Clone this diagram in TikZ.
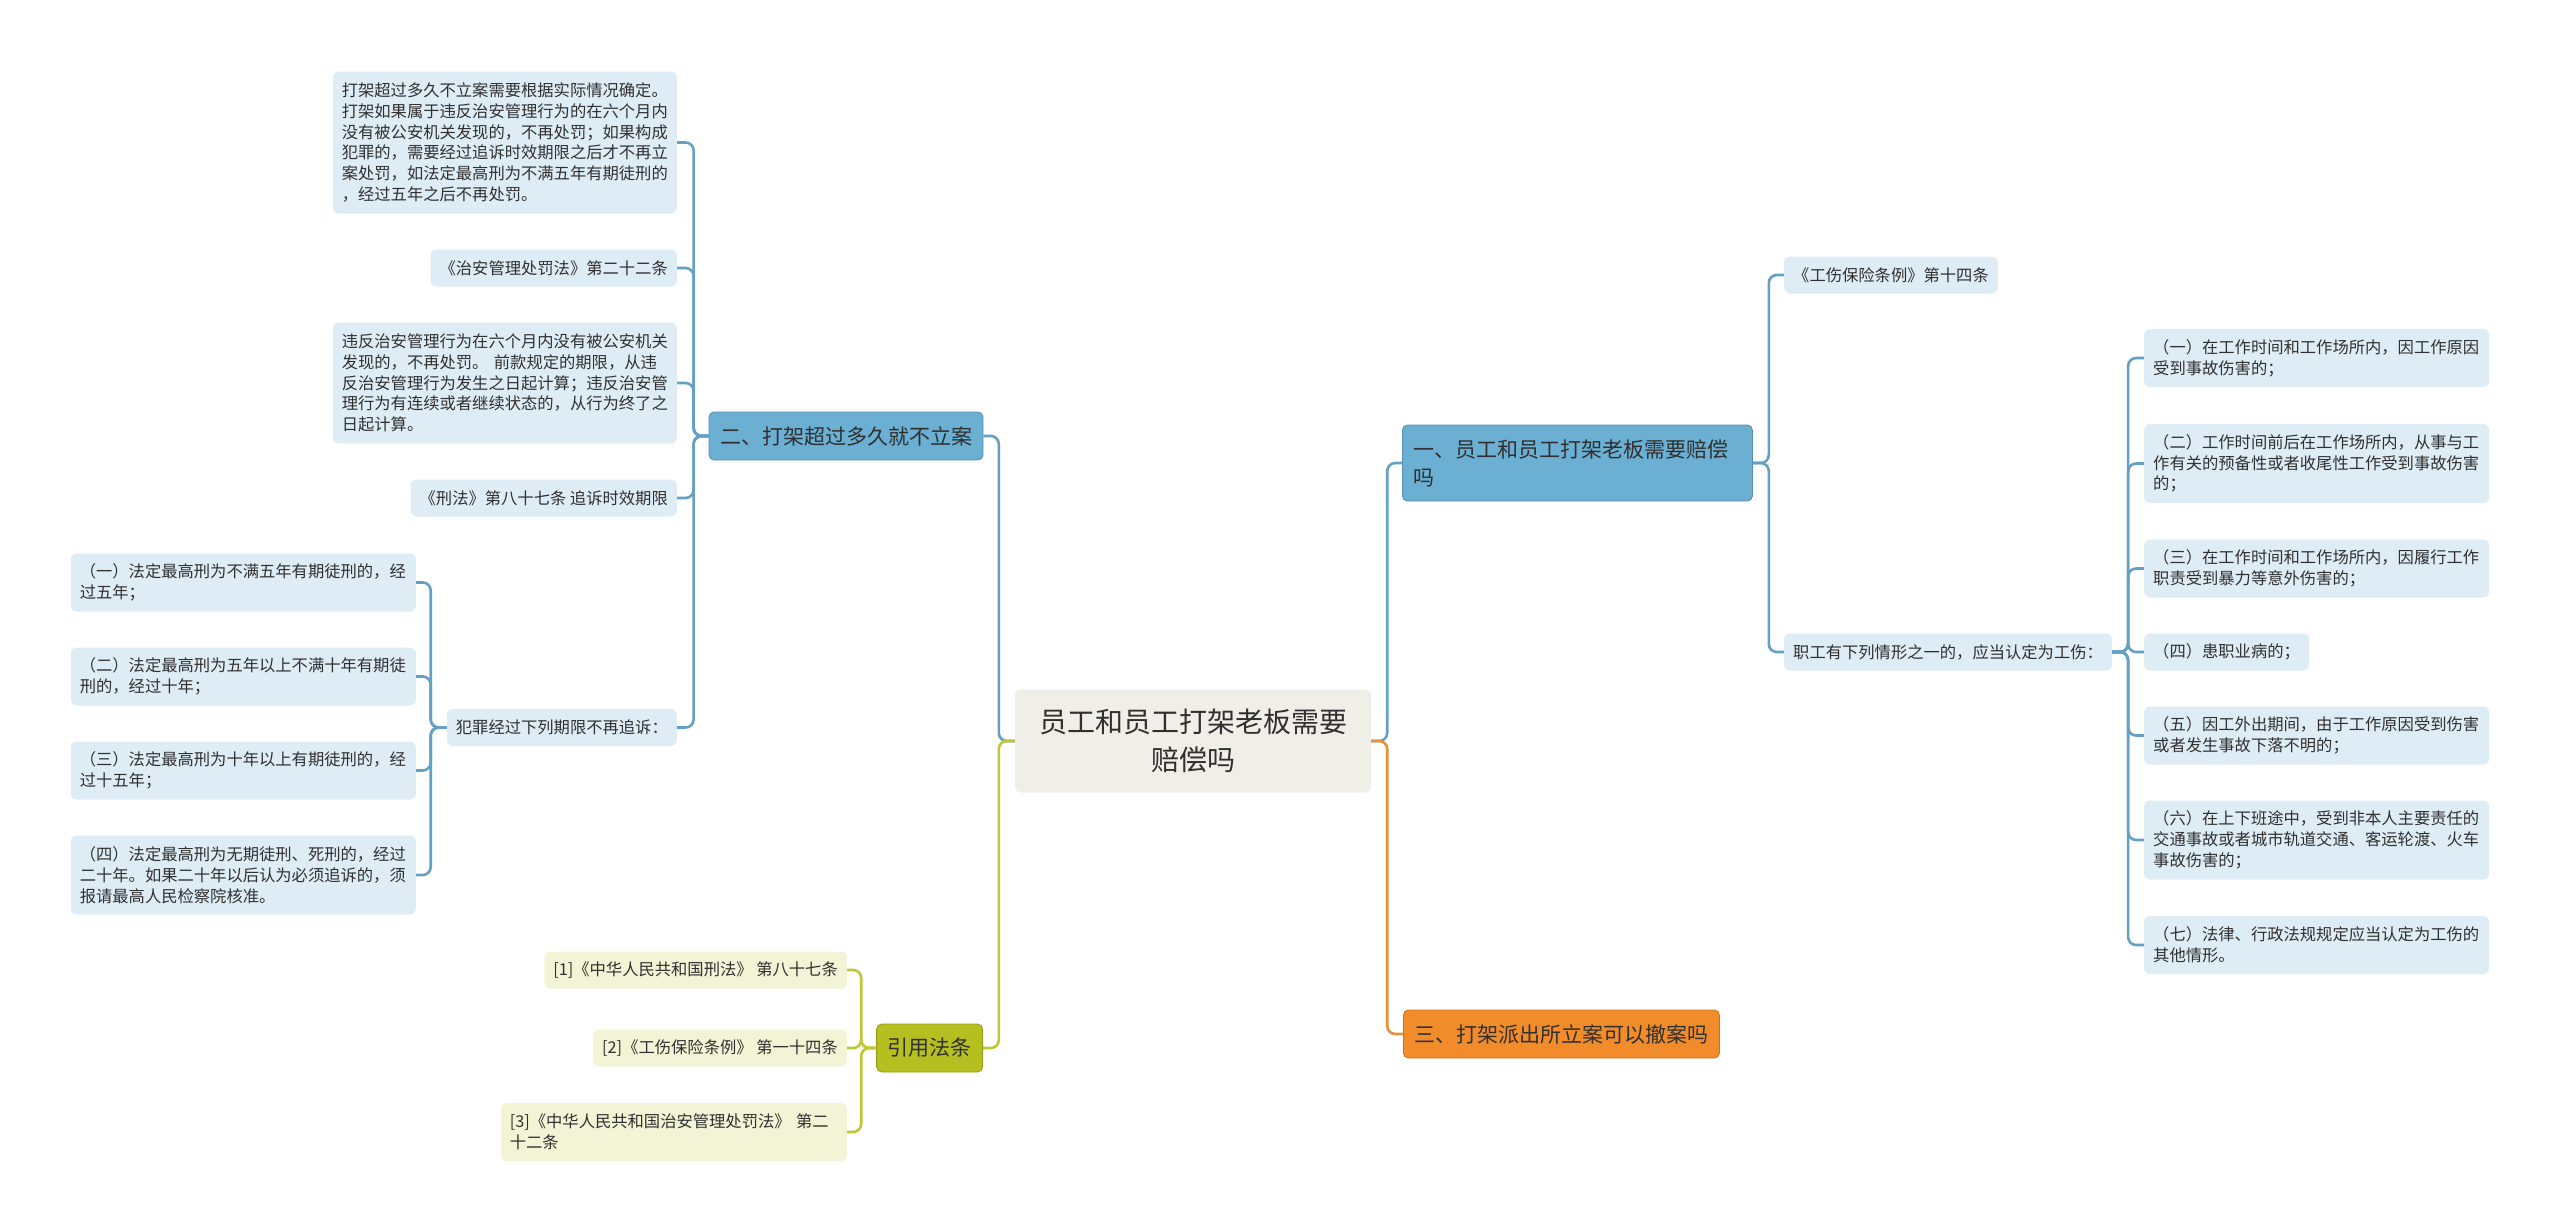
\documentclass[tikz,border=0pt]{standalone}
\usepackage{fontspec}
\setmainfont{Noto Sans CJK SC}
\usepackage{tikz}
\usetikzlibrary{positioning}
\definecolor{rootfill}{HTML}{EFEEE7}
\definecolor{bluetopic}{HTML}{6BAFD3}
\definecolor{blueleaf}{HTML}{DEECF5}
\definecolor{bluelink}{HTML}{649FC4}
\definecolor{olivetopic}{HTML}{B5BF1F}
\definecolor{oliveleaf}{HTML}{F3F3D5}
\definecolor{olivelink}{HTML}{BFC736}
\definecolor{orangetopic}{HTML}{F28C2B}
\definecolor{orangelink}{HTML}{E8903C}
\definecolor{txt}{HTML}{303030}

\begin{document}
\begin{tikzpicture}[x=1pt, y=-1pt, every node/.style={text=txt, inner ysep=0pt},
  root/.style={fill=rootfill, rounded corners=6pt, align=center, font=\fontsize{28}{38}\selectfont,
    minimum width=356pt, minimum height=103pt},
  topic/.style={fill=#1, draw=#1!82!black, line width=0.8pt, rounded corners=5pt,
    font=\fontsize{21}{28}\selectfont, inner xsep=11pt, minimum height=48pt},
  leaf/.style={fill=#1, rounded corners=6pt, font=\fontsize{16.3}{20.8}\selectfont, inner xsep=9pt, align=left},
  lines/.style={minimum height=#1*21pt+16pt},
  link/.style={draw=#1, line width=2.6pt, rounded corners=8pt}]
  \useasboundingbox (0,0) rectangle (2560,1226);

  \node[root] (ctr) at (1193,741) {员工和员工打架老板需要\\赔偿吗};

  % main topics
  \node[topic=bluetopic] (t2) at (846,436) {二、打架超过多久就不立案};
  \node[topic=olivetopic, anchor=east] (law) at (983,1048) {引用法条};
  \node[topic=bluetopic, anchor=west, text width=328pt, align=left, minimum height=76pt] (t1) at (1402,463)
    {一、员工和员工打架老板需要赔偿\\吗};
  \node[topic=orangetopic, anchor=west] (t3) at (1403,1034) {三、打架派出所立案可以撤案吗};

  \draw[link=bluelink] (ctr.west) -- ++(-16,0) |- (t2.east);
  \draw[link=olivelink] (ctr.west) -- ++(-16,0) |- (law.east);
  \draw[link=bluelink] (ctr.east) -- ++(16,0) |- (t1.west);
  \draw[link=orangelink] (ctr.east) -- ++(16,0) |- (t3.west);

  % 二
  \node[leaf=blueleaf, lines=6, text width=326pt, anchor=east] (a1) at (677,142.5)
    {打架超过多久不立案需要根据实际情况确定。\\打架如果属于违反治安管理行为的在六个月内\\没有被公安机关发现的，不再处罚；如果构成\\犯罪的，需要经过追诉时效期限之后才不再立\\案处罚，如法定最高刑为不满五年有期徒刑的\\，经过五年之后不再处罚。};
  \node[leaf=blueleaf, lines=1, anchor=east] (a2) at (677,268) {《治安管理处罚法》第二十二条};
  \node[leaf=blueleaf, lines=5, text width=326pt, anchor=east] (a3) at (677,383)
    {违反治安管理行为在六个月内没有被公安机关\\发现的，不再处罚。~前款规定的期限，从违\\反治安管理行为发生之日起计算；违反治安管\\理行为有连续或者继续状态的，从行为终了之\\日起计算。};
  \node[leaf=blueleaf, lines=1, anchor=east] (a4) at (677,498) {《刑法》第八十七条~追诉时效期限};
  \node[leaf=blueleaf, lines=1, anchor=east] (a5) at (677,727.5) {犯罪经过下列期限不再追诉：};
  \foreach \i in {1,...,5}
    \draw[link=bluelink] (t2.west) -- ++(-15,0) |- (a\i.east);

  \foreach \i/\y/\n/\t in {1/582.5/2/{（一）法定最高刑为不满五年有期徒刑的，经\\过五年；},
      2/676.5/2/{（二）法定最高刑为五年以上不满十年有期徒\\刑的，经过十年；},
      3/770.5/2/{（三）法定最高刑为十年以上有期徒刑的，经\\过十五年；},
      4/875/3/{（四）法定最高刑为无期徒刑、死刑的，经过\\二十年。如果二十年以后认为必须追诉的，须\\报请最高人民检察院核准。}} {
    \node[leaf=blueleaf, lines=\n, text width=327pt, anchor=east] (p\i) at (416,\y) {\t};
    \draw[link=bluelink] (a5.west) -- ++(-16,0) |- (p\i.east);
  }

  % 引用法条
  \node[leaf=oliveleaf, lines=1, anchor=east] (l1) at (847,970) {[1]《中华人民共和国刑法》~第八十七条};
  \node[leaf=oliveleaf, lines=1, anchor=east] (l2) at (847,1048) {[2]《工伤保险条例》~第一十四条};
  \node[leaf=oliveleaf, lines=2, text width=328pt, anchor=east] (l3) at (847,1132)
    {[3]《中华人民共和国治安管理处罚法》~第二\\十二条};
  \foreach \i in {1,2,3}
    \draw[link=olivelink] (law.west) -- ++(-15,0) |- (l\i.east);

  % 一
  \node[leaf=blueleaf, lines=1, anchor=west] (r1) at (1784,275) {《工伤保险条例》第十四条};
  \node[leaf=blueleaf, lines=1, anchor=west] (r2) at (1784,652) {职工有下列情形之一的，应当认定为工伤：};
  \foreach \i in {1,2}
    \draw[link=bluelink] (t1.east) -- ++(16,0) |- (r\i.west);

  \foreach \i/\y/\n/\w/\t in {1/358/2/327/{（一）在工作时间和工作场所内，因工作原因\\受到事故伤害的；},
      2/463.5/3/327/{（二）工作时间前后在工作场所内，从事与工\\作有关的预备性或者收尾性工作受到事故伤害\\的；},
      3/568.5/2/327/{（三）在工作时间和工作场所内，因履行工作\\职责受到暴力等意外伤害的；},
      4/652/1/147/{（四）患职业病的；},
      5/735.5/2/327/{（五）因工外出期间，由于工作原因受到伤害\\或者发生事故下落不明的；},
      6/840/3/327/{（六）在上下班途中，受到非本人主要责任的\\交通事故或者城市轨道交通、客运轮渡、火车\\事故伤害的；},
      7/945/2/327/{（七）法律、行政法规规定应当认定为工伤的\\其他情形。}} {
    \node[leaf=blueleaf, lines=\n, text width=\w pt, anchor=west] (s\i) at (2144,\y) {\t};
    \draw[link=bluelink] (r2.east) -- ++(16,0) |- (s\i.west);
  }
\end{tikzpicture}
\end{document}
